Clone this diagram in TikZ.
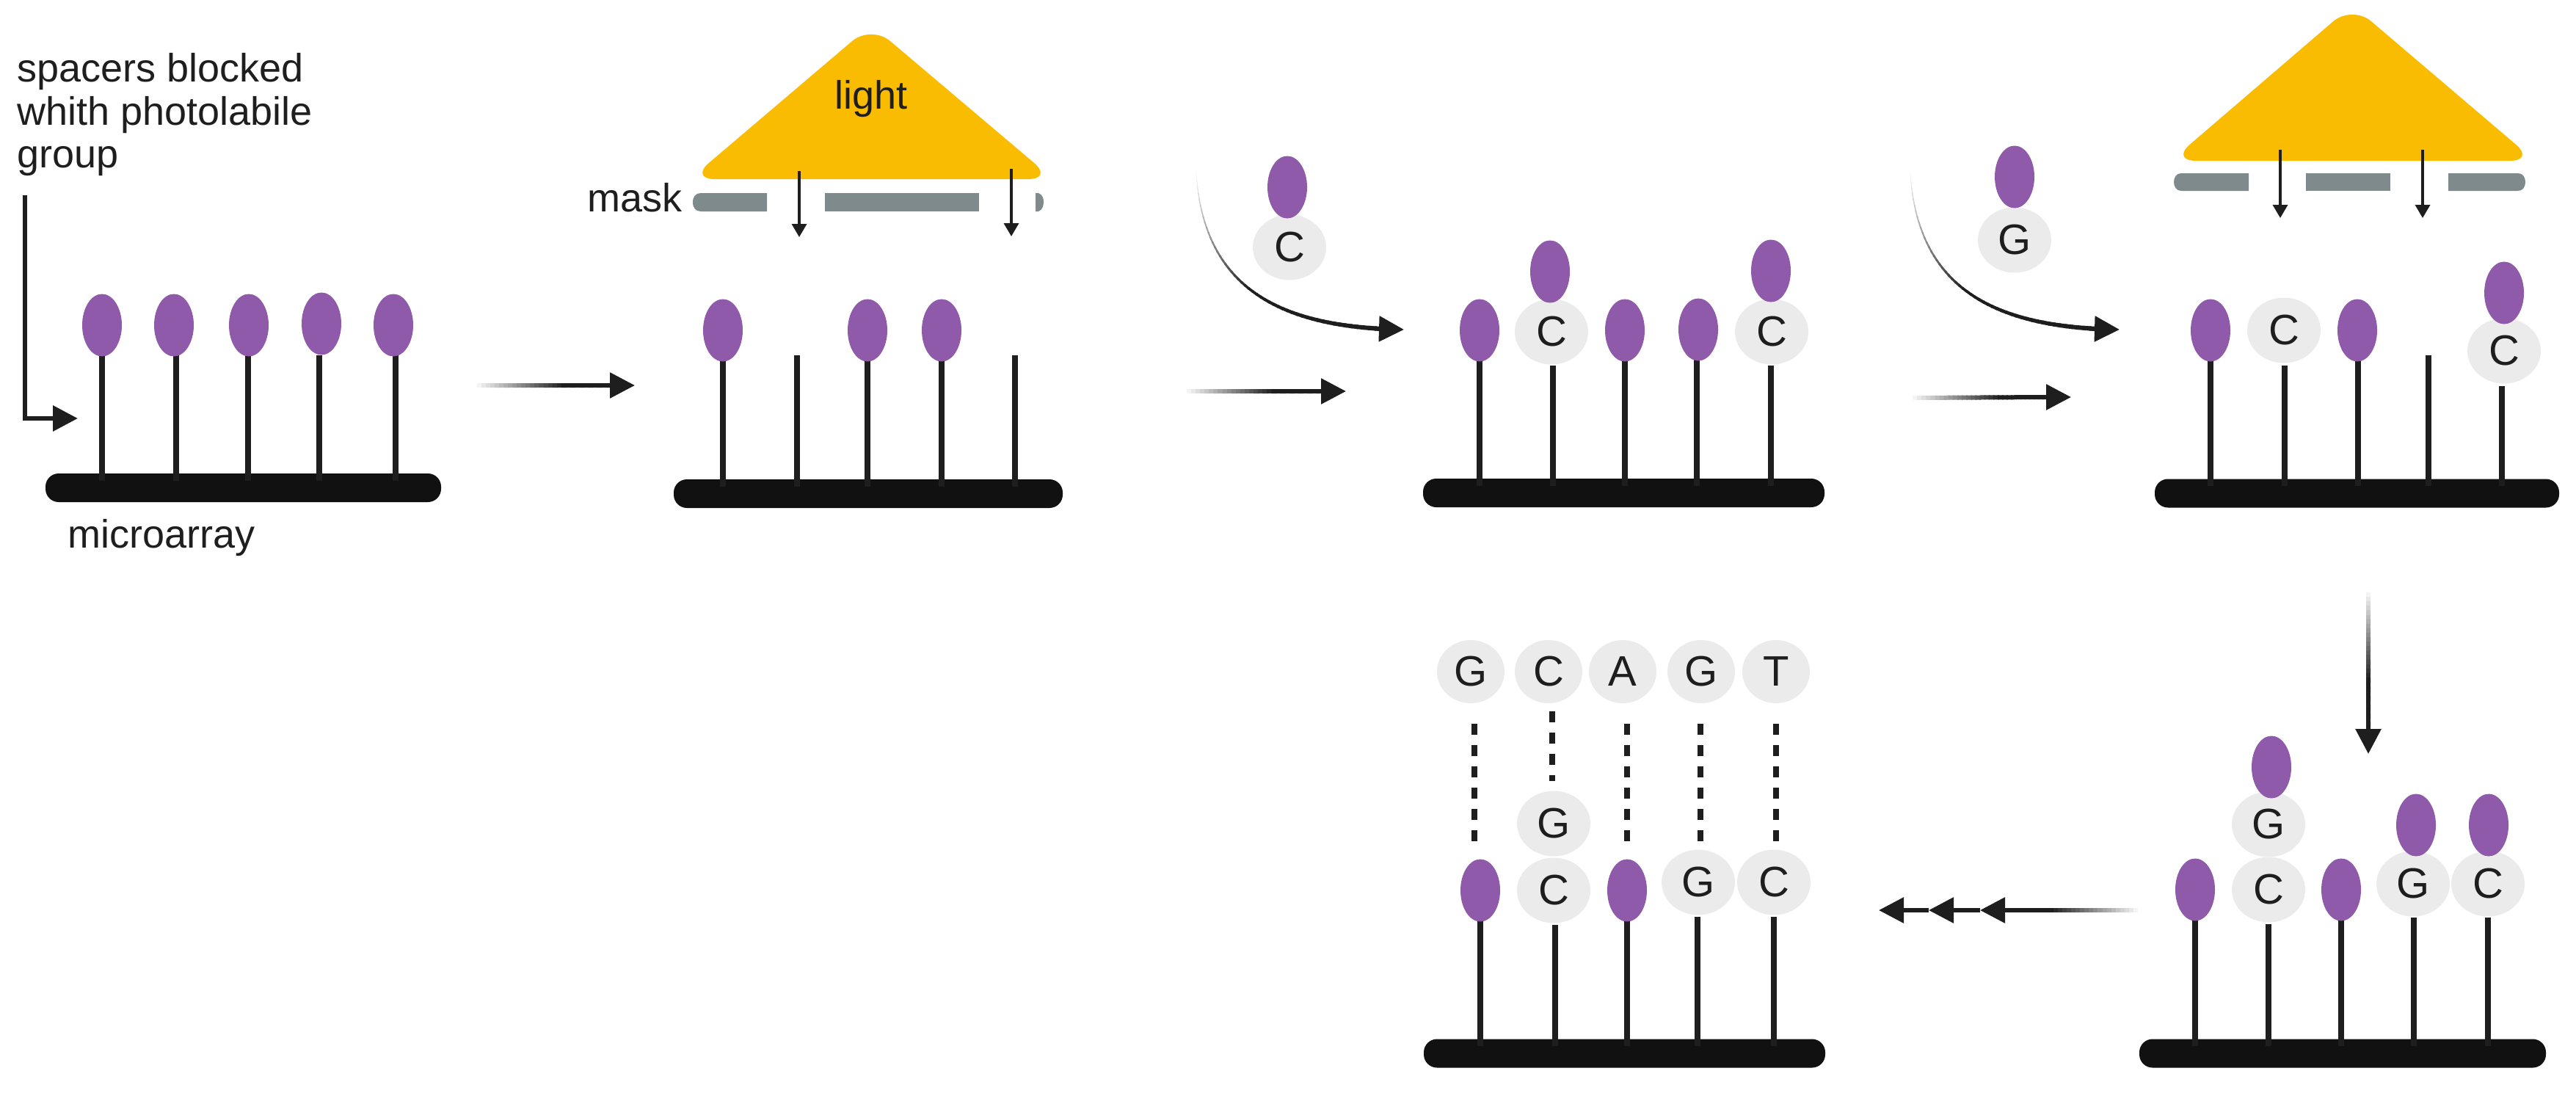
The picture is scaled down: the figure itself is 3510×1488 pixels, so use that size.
\documentclass[tikz,border=0pt]{standalone}
\usepackage{fontspec}
\setmainfont{Liberation Sans}
\usetikzlibrary{shapes.geometric,arrows.meta,calc}
\definecolor{ink}{HTML}{1E1E1E}
\definecolor{barink}{HTML}{111111}
\definecolor{blobc}{HTML}{8E5AA9}
\definecolor{basec}{HTML}{EBEBEB}
\definecolor{sun}{HTML}{F9BC00}
\definecolor{maskc}{HTML}{7F8A8C}
\tikzset{
  blob/.style={ellipse,fill=blobc,inner sep=0pt,minimum width=27pt,minimum height=42.5pt},
  base/.style={ellipse,fill=basec,text=ink,inner sep=0pt,minimum width=50pt,minimum height=44.5pt,font=\fontsize{29}{30}\selectfont},
  topbase/.style={base,minimum width=46pt,minimum height=43pt},
  bar/.style={rectangle,fill=barink,rounded corners=9pt,inner sep=0pt,minimum height=19.5pt},
  stem/.style={draw=ink,line width=3.8pt},
  label/.style={anchor=base west,inner sep=0pt,text=ink,font=\fontsize{27}{29.3}\selectfont},
  fadehead/.style={draw=ink,line width=3pt,-{Triangle[length=17pt,width=17pt]}},
  lighthead/.style={draw=ink,line width=1.8pt,-{Triangle[length=9pt,width=10pt]}},
  lightbeam/.style={fill=sun,rounded corners=17pt},
  maskseg/.style={fill=maskc},
  pairdash/.style={draw=ink,line width=3.8pt,dash pattern=on 7.5pt off 7pt},
}
% stem: coordinate #1 at top (#2,#3), down into bar #4
\newcommand{\stalk}[4]{\coordinate (#1) at (#2,#3); \draw[stem] (#1) -- ($(#1 |- #4.north)+(0,10)$);}
% straight fading line from #1 to #2
\newcommand{\fadeline}[2]{%
  \foreach \i in {1,...,30}{%
    \pgfmathsetmacro\ta{(\i-1)/30}%
    \pgfmathsetmacro\tb{min(1,\i/30+0.01)}%
    \pgfmathsetmacro\g{min(100,\i*100/20)}%
    \draw[line width=3pt,color=ink!\g!white] ($(#1)!\ta!(#2)$) -- ($(#1)!\tb!(#2)$);
  }}
% curved fading line: bezier #1..#8 (x0,y0,x1,y1,x2,y2,x3,y3)
\newcommand{\fadecurve}[8]{%
  \foreach \i in {1,...,50}{%
    \pgfmathsetmacro\ta{(\i-1)/50}%
    \pgfmathsetmacro\tb{\i/50+0.004}%
    \pgfmathsetmacro\xa{(1-\ta)^3*#1+3*(1-\ta)^2*\ta*#3+3*(1-\ta)*\ta^2*#5+\ta^3*#7}%
    \pgfmathsetmacro\ya{(1-\ta)^3*#2+3*(1-\ta)^2*\ta*#4+3*(1-\ta)*\ta^2*#6+\ta^3*#8}%
    \pgfmathsetmacro\xb{(1-\tb)^3*#1+3*(1-\tb)^2*\tb*#3+3*(1-\tb)*\tb^2*#5+\tb^3*#7}%
    \pgfmathsetmacro\yb{(1-\tb)^3*#2+3*(1-\tb)^2*\tb*#4+3*(1-\tb)*\tb^2*#6+\tb^3*#8}%
    \pgfmathsetmacro\g{min(100,\i*100/25)}%
    \pgfmathsetmacro\w{0.5+2.6*\i/50}%
    \draw[line width=\w pt,color=ink!\g!white,line cap=round] (\xa,\ya) -- (\xb,\yb);
  }}
\begin{document}
\begin{tikzpicture}[x=0.5pt,y=-0.5pt]
\useasboundingbox (0,0) rectangle (3510,1488);

% ---------- panel 1
\node[bar,minimum width=269.5pt] (b1) at (331.5,664.5) {};
\stalk{s11}{139}{484}{b1}\stalk{s12}{240}{484}{b1}\stalk{s13}{338}{484}{b1}\stalk{s14}{435}{484}{b1}\stalk{s15}{539}{484}{b1}
\node[blob] (e11) at (139,443) {};
\node[blob] (e12) at (237,443) {};
\node[blob] (e13) at (339,443) {};
\node[blob] (e14) at (438,441) {};
\node[blob] (e15) at (536,443) {};
\node[label,align=left,anchor=north west] (spacers) at (23,72) {spacers blocked\\whith photolabile\\group};
\node[label] (micro) at (92,746) {microarray};
\coordinate (l0) at (34,266); \coordinate (l1) at (106,570);
\draw[fadehead,line width=3.2pt] (l0) |- (l1);

% arrow 1
\coordinate (a1s) at (650,525); \coordinate (a1b) at (831,525); \coordinate (a1t) at (865,525);
\fadeline{a1s}{a1b}
\draw[fadehead] (a1b) -- (a1t);

% ---------- panel 2
\node[bar,minimum width=265pt] (b2) at (1183,672.5) {};
\stalk{s21}{985}{490}{b2}\stalk{s22}{1086}{484}{b2}\stalk{s23}{1182}{490}{b2}\stalk{s24}{1283}{490}{b2}\stalk{s25}{1383}{484}{b2}
\node[blob] (e21) at (985,450) {};
\node[blob] (e23) at (1182,450) {};
\node[blob] (e24) at (1283,450) {};
\fill[lightbeam] (940,244) -- (1187,34) -- (1435,244) -- cycle;
\node[label,anchor=base] (light) at (1187,148) {light};
\node[label] (mask) at (800,288) {mask};
\fill[maskc] (1045,263) -- (955,263) .. controls (948,263) and (944,268) .. (944,275.5) .. controls (944,283) and (948,288) .. (955,288) -- (1045,288) -- cycle;
\fill[maskseg] (1124,263) rectangle (1334,288);
\fill[maskc] (1411,263) -- (1415,263) .. controls (1420,265) and (1422,270) .. (1422,275) .. controls (1422,281) and (1420,286) .. (1415,288) -- (1411,288) -- cycle;
\coordinate (l21) at (1089,233); \coordinate (l21e) at (1089,323);
\coordinate (l22) at (1378,230); \coordinate (l22e) at (1378,322);
\draw[lighthead] (l21) -- (l21e);
\draw[lighthead] (l22) -- (l22e);

% arrow 2
\coordinate (a2s) at (1617,533); \coordinate (a2b) at (1799,533); \coordinate (a2t) at (1834,533);
\fadeline{a2s}{a2b}
\draw[fadehead] (a2b) -- (a2t);

% curved arrow + free nucleotide C
\fadecurve{1630}{236}{1640}{390}{1740}{440}{1882}{448}
\coordinate (c1b) at (1880,448); \coordinate (c1t) at (1913,449);
\draw[fadehead] (c1b) -- (c1t);
\node[base] (fc) at (1757,337) {C};
\node[blob] (fce) at (1754,255) {};

% ---------- panel 3
\node[bar,minimum width=273.5pt] (b3) at (2212.5,671.5) {};
\stalk{s31}{2016}{490}{b3}\stalk{s32}{2116}{498}{b3}\stalk{s33}{2214}{490}{b3}\stalk{s34}{2312}{490}{b3}\stalk{s35}{2413}{498}{b3}
\node[base] (c31) at (2114,452) {C};
\node[base] (c32) at (2414,452) {C};
\node[blob] (e31) at (2016,450) {};
\node[blob] (e32) at (2112,370) {};
\node[blob] (e33) at (2214,450) {};
\node[blob] (e34) at (2314,449) {};
\node[blob] (e35) at (2413,369) {};

% arrow 3
\coordinate (a3s) at (2606,542); \coordinate (a3b) at (2789,541); \coordinate (a3t) at (2822,541);
\fadeline{a3s}{a3b}
\draw[fadehead] (a3b) -- (a3t);

% curved arrow + free nucleotide G
\fadecurve{2603}{236}{2613}{390}{2713}{440}{2856}{448}
\coordinate (c2b) at (2854,448); \coordinate (c2t) at (2888,449);
\draw[fadehead] (c2b) -- (c2t);
\node[base] (fg) at (2745,327) {G};
\node[blob] (fge) at (2745,241) {};

% ---------- panel 4
\node[bar,minimum width=275.5pt] (b4) at (3211.5,672) {};
\stalk{s41}{3012}{490}{b4}\stalk{s42}{3113}{498}{b4}\stalk{s43}{3213}{490}{b4}\stalk{s44}{3309}{484}{b4}\stalk{s45}{3409}{526}{b4}
\node[blob] (e41) at (3012,450) {};
\node[base] (c41) at (3112,450) {C};
\node[blob] (e43) at (3212,450) {};
\node[base] (c45) at (3412,478) {C};
\node[blob] (e45) at (3412,399) {};
\fill[lightbeam] (2958,219) -- (3205,7) -- (3454,219) -- cycle;
\fill[maskc] (3064,236) -- (2972,236) .. controls (2966,236) and (2962,241) .. (2962,248) .. controls (2962,255) and (2966,260) .. (2972,260) -- (3064,260) -- cycle;
\fill[maskseg] (3142,236) rectangle (3257,260);
\fill[maskc] (3336,236) -- (3431,236) .. controls (3437,236) and (3441,241) .. (3441,248) .. controls (3441,255) and (3437,260) .. (3431,260) -- (3336,260) -- cycle;
\coordinate (l41) at (3107,204); \coordinate (l41e) at (3107,297);
\coordinate (l42) at (3301,204); \coordinate (l42e) at (3301,297);
\draw[lighthead] (l41) -- (l41e);
\draw[lighthead] (l42) -- (l42e);

% down arrow
\coordinate (d1s) at (3227,807); \coordinate (d1b) at (3227,990); \coordinate (d1t) at (3227,1027);
\fadeline{d1s}{d1b}
\draw[fadehead] (d1b) -- (d1t);

% ---------- panel 5
\node[bar,minimum width=277pt] (b5) at (3192,1435) {};
\stalk{s51}{2991}{1250}{b5}\stalk{s52}{3091}{1259}{b5}\stalk{s53}{3190}{1250}{b5}\stalk{s54}{3289}{1250}{b5}\stalk{s55}{3390}{1250}{b5}
\node[base] (c52) at (3091,1212) {C};
\node[base] (g52) at (3091,1123) {G};
\node[base] (g54) at (3288,1204) {G};
\node[base] (c55) at (3390,1204) {C};
\node[blob] (e51) at (2991,1212) {};
\node[blob] (e52) at (3095,1045) {};
\node[blob] (e53) at (3190,1212) {};
\node[blob] (e54) at (3292,1124) {};
\node[blob] (e55) at (3391,1124) {};

% triple arrow
\coordinate (t0) at (2913,1240); \coordinate (t1) at (2731,1240);
\coordinate (t2) at (2698,1240); \coordinate (t3) at (2628,1240); \coordinate (t4) at (2560,1240);
\fadeline{t0}{t1}
\draw[fadehead] (t1) -- (t2);
\draw[fadehead] (t2) -- (t3);
\draw[fadehead] (t3) -- (t4);

% ---------- panel 6
\node[bar,minimum width=273.5pt] (b6) at (2213.5,1435) {};
\stalk{s61}{2017}{1250}{b6}\stalk{s62}{2119}{1260}{b6}\stalk{s63}{2217}{1250}{b6}\stalk{s64}{2313}{1249}{b6}\stalk{s65}{2417}{1249}{b6}
\node[base] (c62) at (2117,1213) {C};
\node[base] (g62) at (2117,1122) {G};
\node[base] (g64) at (2314,1202) {G};
\node[base] (c65) at (2417,1202) {C};
\node[blob] (e61) at (2017,1213) {};
\node[blob] (e63) at (2217,1213) {};
\node[topbase] (tg1) at (2004,915) {G};
\node[topbase] (tc) at (2110,915) {C};
\node[topbase] (ta) at (2211,915) {A};
\node[topbase] (tg2) at (2318,915) {G};
\node[topbase] (tt) at (2420,915) {T};
\coordinate (p1a) at (2009,986); \coordinate (p1b) at (2009,1149);
\coordinate (p2a) at (2115,969); \coordinate (p2b) at (2115,1064);
\coordinate (p3a) at (2217,986); \coordinate (p3b) at (2217,1149);
\coordinate (p4a) at (2317,986); \coordinate (p4b) at (2317,1149);
\coordinate (p5a) at (2420,986); \coordinate (p5b) at (2420,1149);
\draw[pairdash] (p1a) -- (p1b);
\draw[pairdash] (p2a) -- (p2b);
\draw[pairdash] (p3a) -- (p3b);
\draw[pairdash] (p4a) -- (p4b);
\draw[pairdash] (p5a) -- (p5b);
\end{tikzpicture}
\end{document}
